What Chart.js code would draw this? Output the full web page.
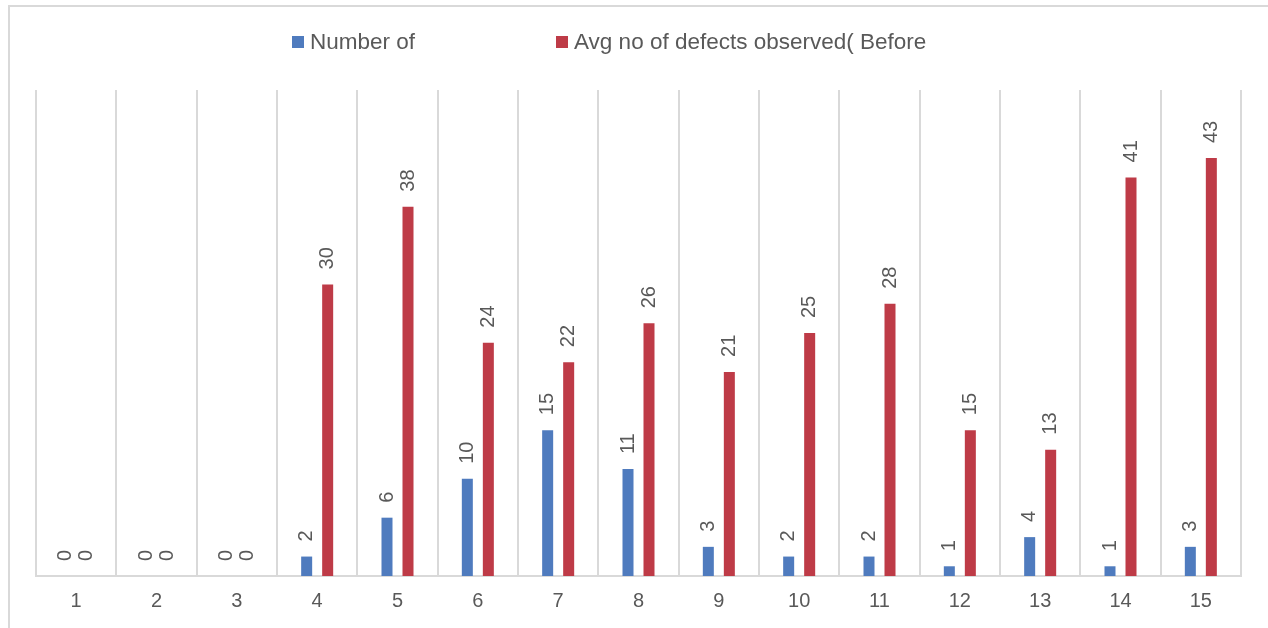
<!DOCTYPE html>
<html>
<head>
<meta charset="utf-8">
<script src="https://cdn.jsdelivr.net/npm/chart.js@4/dist/chart.umd.min.js"></script>
<style>
  html, body { margin: 0; padding: 0; background: #ffffff; }
  #wrap { width: 1268px; height: 628px; position: relative; }
</style>
</head>
<body>
<div id="wrap"><canvas id="chart" width="1268" height="628"></canvas></div>
<script>
// Categories and series
const categories = ['1', '2', '3', '4', '5', '6', '7', '8', '9', '10', '11', '12', '13', '14', '15'];
const numberOf = [0, 0, 0, 2, 6, 10, 15, 11, 3, 2, 2, 1, 4, 1, 3];
const avgDefectsBefore = [0, 0, 0, 30, 38, 24, 22, 26, 21, 25, 28, 15, 13, 41, 43];
const seriesNames = ['Number of', 'Avg no of defects observed( Before'];

const FONT = "'Liberation Sans', Arial, sans-serif";
const TEXT_GREY = '#595959';
const GRID_GREY = '#d9d9d9';
const BLUE = '#4f7bbe';
const RED = '#be3b47';

// Outer frame of the chart
const framePlugin = {
  id: 'frame',
  beforeDraw(chart) {
    const ctx = chart.ctx;
    ctx.save();
    ctx.fillStyle = '#ffffff';
    ctx.fillRect(0, 0, chart.width, chart.height);
    ctx.strokeStyle = GRID_GREY;
    ctx.lineWidth = 2;
    ctx.strokeRect(9, 6, chart.width + 20, chart.height + 20);
    ctx.restore();
  }
};

// Rotated value labels above each bar
const valueLabelPlugin = {
  id: 'valueLabels',
  afterDatasetsDraw(chart) {
    const ctx = chart.ctx;
    ctx.save();
    ctx.font = '20px ' + FONT;
    ctx.fillStyle = TEXT_GREY;
    ctx.textAlign = 'left';
    ctx.textBaseline = 'middle';
    chart.data.datasets.forEach((ds, di) => {
      const meta = chart.getDatasetMeta(di);
      meta.data.forEach((bar, i) => {
        ctx.save();
        ctx.translate(bar.x, bar.y - 15);
        ctx.rotate(-Math.PI / 2);
        ctx.fillText(String(ds.data[i]), 0, 0);
        ctx.restore();
      });
    });
    ctx.restore();
  }
};

// Legend row across the top, spaced in fixed-width slots
const legendPlugin = {
  id: 'topLegend',
  afterDraw(chart) {
    const ctx = chart.ctx;
    const slotStarts = [292, 556];
    ctx.save();
    ctx.font = '22.5px ' + FONT;
    ctx.textBaseline = 'middle';
    ctx.textAlign = 'left';
    chart.data.datasets.forEach((ds, i) => {
      const x = slotStarts[i];
      ctx.fillStyle = ds.backgroundColor;
      ctx.fillRect(x, 36, 12, 12);
      ctx.fillStyle = TEXT_GREY;
      ctx.fillText(ds.label, x + 18, 43);
    });
    ctx.restore();
  }
};

new Chart(document.getElementById('chart'), {
  type: 'bar',
  data: {
    labels: categories,
    datasets: [
      { label: seriesNames[0], data: numberOf, backgroundColor: BLUE },
      { label: seriesNames[1], data: avgDefectsBefore, backgroundColor: RED }
    ]
  },
  options: {
    responsive: false,
    animation: false,
    devicePixelRatio: 1,
    categoryPercentage: 0.523,
    barPercentage: 0.524,
    layout: { padding: { left: 36, right: 27, top: 90, bottom: 2 } },
    plugins: {
      legend: { display: false },
      tooltip: { enabled: false },
      title: { display: false }
    },
    scales: {
      x: {
        grid: {
          offset: true,
          color: GRID_GREY,
          lineWidth: 2,
          drawTicks: false
        },
        border: { display: true, color: GRID_GREY, width: 2 },
        ticks: {
          color: TEXT_GREY,
          font: { family: FONT, size: 20 },
          padding: 13,
          maxRotation: 0
        }
      },
      y: {
        display: false,
        min: 0,
        max: 50
      }
    }
  },
  plugins: [framePlugin, valueLabelPlugin, legendPlugin]
});
</script>
</body>
</html>
